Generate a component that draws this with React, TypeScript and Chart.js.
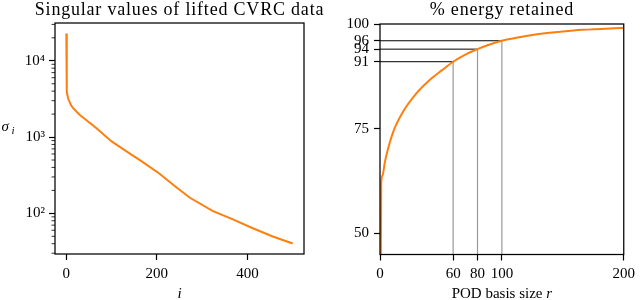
import React, { useEffect, useRef } from "react";
import { Chart, registerables } from "chart.js";

Chart.register(...registerables);

// ---- Left panel: singular values ----
const SV_INDEX = [0, 1, 4, 10, 15, 30, 66, 100, 133, 169, 206, 240, 273, 324, 368, 412, 456, 500];
const SV_VALUES = [22800, 3900, 3200, 2650, 2390, 1950, 1315, 877, 649, 470, 330, 227, 160, 107, 83.5, 63.7, 49.7, 40.3];
const SV_X_TICKS = [0, 200, 400];
const SV_X_RANGE = [-25, 525];
const SV_Y_RANGE = [29.3, 31300];

// ---- Right panel: energy retained ----
const POD_R = [0, 1, 2, 4, 6, 11, 19, 30, 41, 51, 60, 72, 80, 90, 100, 110, 125, 150, 166, 200];
const POD_ENERGY = [0, 62, 63.8, 67, 69.6, 74.4, 79.1, 83.5, 86.7, 89, 91, 93, 94, 95.1, 96, 96.6, 97.4, 98.2, 98.6, 99.1];
const MARK_R = [60, 80, 100];
const MARK_ENERGY = [91, 94, 96];
const POD_X_TICKS = [0, 60, 80, 100, 200];
const POD_Y_TICKS = [50, 75, 91, 94, 96, 100];
const POD_X_RANGE = [0, 200];
const POD_Y_RANGE = [45, 100];

const SERIF = '"Liberation Serif", "DejaVu Serif", serif';
const ORANGE = "#ff7f0e";
const SUP: Record<string, string> = { "0": "⁰", "1": "¹", "2": "²", "3": "³", "4": "⁴", "5": "⁵", "6": "⁶", "7": "⁷", "8": "⁸", "9": "⁹" };

Chart.defaults.font.family = SERIF;
Chart.defaults.color = "#000";

function supLabel(v: number) {
  const e = Math.round(Math.log10(v));
  return "10" + String(e).split("").map((c) => SUP[c]).join("");
}

function logTicks(min: number, max: number) {
  const out: any[] = [];
  for (let d = Math.floor(Math.log10(min)); d <= Math.ceil(Math.log10(max)); d++) {
    for (let m = 1; m <= 9; m++) {
      const v = m * Math.pow(10, d);
      if (v >= min && v <= max) out.push({ value: v, major: m === 1 });
    }
  }
  return out;
}

const tickFont = { family: SERIF, size: 15 };

function gridOpts() {
  return {
    display: true,
    drawOnChartArea: false,
    drawTicks: true,
    tickLength: 6,
    tickWidth: 1.2,
    tickColor: (ctx: any) => (ctx.tick && ctx.tick.major ? "#000" : "rgba(0,0,0,0)"),
  };
}

const framePlugin = {
  id: "frame",
  afterDraw(chart: any) {
    const { ctx, chartArea: a } = chart;
    ctx.save();
    const y = chart.scales.y;
    ctx.strokeStyle = "#000";
    ctx.lineWidth = 0.8;
    y.ticks.forEach((t: any) => {
      if (!t.major) {
        const py = y.getPixelForValue(t.value);
        ctx.beginPath();
        ctx.moveTo(a.left - 3.5, py);
        ctx.lineTo(a.left, py);
        ctx.stroke();
      }
    });
    ctx.lineWidth = 1.25;
    ctx.strokeRect(a.left, a.top, a.right - a.left, a.bottom - a.top);
    ctx.restore();
  },
};

function drawTitle(ctx: any, text: string, cx: number) {
  ctx.save();
  ctx.font = `18px ${SERIF}`;
  (ctx as any).letterSpacing = "0.8px";
  ctx.fillStyle = "#000";
  ctx.textAlign = "center";
  ctx.textBaseline = "alphabetic";
  ctx.fillText(text, cx, 14.5);
  ctx.restore();
}

function leftConfig(): any {
  return {
    type: "line",
    data: {
      datasets: [
        {
          data: SV_INDEX.map((x, i) => ({ x, y: SV_VALUES[i] })),
          borderColor: ORANGE,
          borderWidth: 2,
          pointRadius: 0,
          tension: 0,
        },
      ],
    },
    options: {
      animation: false,
      responsive: false,
      maintainAspectRatio: false,
      layout: { padding: { left: 0, right: 26, top: 23, bottom: 0 } },
      plugins: { legend: { display: false }, tooltip: { enabled: false }, title: { display: false } },
      scales: {
        x: {
          type: "linear",
          min: SV_X_RANGE[0],
          max: SV_X_RANGE[1],
          afterBuildTicks: (s: any) => {
            s.ticks = SV_X_TICKS.map((v) => ({ value: v, major: true }));
          },
          afterFit: (s: any) => {
            s.height = 46;
          },
          grid: gridOpts(),
          border: { display: false },
          ticks: { font: tickFont, color: "#000", padding: 5, maxRotation: 0, autoSkip: false },
        },
        y: {
          type: "logarithmic",
          min: SV_Y_RANGE[0],
          max: SV_Y_RANGE[1],
          afterBuildTicks: (s: any) => {
            s.ticks = logTicks(SV_Y_RANGE[0], SV_Y_RANGE[1]);
          },
          afterFit: (s: any) => {
            s.width = 55;
          },
          grid: gridOpts(),
          border: { display: false },
          ticks: {
            font: tickFont,
            color: "#000",
            padding: 4,
            autoSkip: false,
            callback: (value: number, index: number, ticks: any[]) => (ticks[index].major ? supLabel(value) : ""),
          },
        },
      },
    },
    plugins: [
      framePlugin,
      {
        id: "leftText",
        afterDraw(chart: any) {
          const { ctx, chartArea: a } = chart;
          const cx = (a.left + a.right) / 2;
          drawTitle(ctx, "Singular values of lifted CVRC data", cx);
          ctx.save();
          ctx.fillStyle = "#000";
          ctx.textBaseline = "alphabetic";
          ctx.textAlign = "center";
          ctx.font = `italic 15px ${SERIF}`;
          ctx.fillText("i", cx, 297.5);
          ctx.textAlign = "left";
          ctx.fillText("σ", 1.5, 131);
          ctx.font = `italic 11px ${SERIF}`;
          ctx.fillText("i", 11.5, 133.5);
          ctx.restore();
        },
      },
    ],
  };
}

function rightConfig(): any {
  const datasets: any[] = [
    {
      data: POD_R.map((x, i) => ({ x, y: POD_ENERGY[i] })),
      borderColor: ORANGE,
      borderWidth: 2,
      pointRadius: 0,
      cubicInterpolationMode: "monotone",
    },
  ];
  MARK_R.forEach((r, i) => {
    datasets.push({
      data: [
        { x: POD_X_RANGE[0], y: MARK_ENERGY[i] },
        { x: r, y: MARK_ENERGY[i] },
      ],
      borderColor: "#000",
      borderWidth: 1,
      pointRadius: 0,
    });
  });
  MARK_R.forEach((r, i) => {
    datasets.push({
      data: [
        { x: r, y: POD_Y_RANGE[0] },
        { x: r, y: MARK_ENERGY[i] },
      ],
      borderColor: "#9a9a9a",
      borderWidth: 1.2,
      pointRadius: 0,
    });
  });
  return {
    type: "line",
    data: { datasets },
    options: {
      animation: false,
      responsive: false,
      maintainAspectRatio: false,
      layout: { padding: { left: 0, right: 10.7, top: 24, bottom: 0 } },
      plugins: { legend: { display: false }, tooltip: { enabled: false }, title: { display: false } },
      scales: {
        x: {
          type: "linear",
          min: POD_X_RANGE[0],
          max: POD_X_RANGE[1],
          afterBuildTicks: (s: any) => {
            s.ticks = POD_X_TICKS.map((v) => ({ value: v, major: true }));
          },
          afterFit: (s: any) => {
            s.height = 45.5;
          },
          grid: gridOpts(),
          border: { display: false },
          ticks: { font: tickFont, color: "#000", padding: 5, maxRotation: 0, autoSkip: false },
        },
        y: {
          type: "linear",
          min: POD_Y_RANGE[0],
          max: POD_Y_RANGE[1],
          afterBuildTicks: (s: any) => {
            s.ticks = POD_Y_TICKS.map((v) => ({ value: v, major: true }));
          },
          afterFit: (s: any) => {
            s.width = 60;
          },
          grid: gridOpts(),
          border: { display: false },
          ticks: { font: tickFont, color: "#000", padding: 5, autoSkip: false },
        },
      },
    },
    plugins: [
      framePlugin,
      {
        id: "rightText",
        afterDraw(chart: any) {
          const { ctx, chartArea: a } = chart;
          const cx = (a.left + a.right) / 2;
          drawTitle(ctx, "% energy retained", cx);
          ctx.save();
          ctx.fillStyle = "#000";
          ctx.textBaseline = "alphabetic";
          ctx.textAlign = "left";
          const main = "POD basis size ";
          ctx.font = `15px ${SERIF}`;
          const w1 = ctx.measureText(main).width;
          ctx.font = `italic 15px ${SERIF}`;
          const w2 = ctx.measureText("r").width;
          const x0 = cx - (w1 + w2) / 2;
          ctx.font = `15px ${SERIF}`;
          ctx.fillText(main, x0, 297.5);
          ctx.font = `italic 15px ${SERIF}`;
          ctx.fillText("r", x0 + w1, 297.5);
          ctx.restore();
        },
      },
    ],
  };
}

export default function App() {
  const leftRef = useRef<HTMLCanvasElement>(null);
  const rightRef = useRef<HTMLCanvasElement>(null);
  useEffect(() => {
    const c1 = new Chart(leftRef.current as HTMLCanvasElement, leftConfig());
    const c2 = new Chart(rightRef.current as HTMLCanvasElement, rightConfig());
    return () => {
      c1.destroy();
      c2.destroy();
    };
  }, []);
  return (
    <div style={{ position: "fixed", left: 0, top: 0, width: 640, height: 300, background: "#fff" }}>
      <canvas
        ref={leftRef}
        width={330}
        height={300}
        style={{ position: "absolute", left: 0, top: 0, width: 330, height: 300 }}
      />
      <canvas
        ref={rightRef}
        width={320}
        height={300}
        style={{ position: "absolute", left: 320, top: 0, width: 320, height: 300 }}
      />
    </div>
  );
}
